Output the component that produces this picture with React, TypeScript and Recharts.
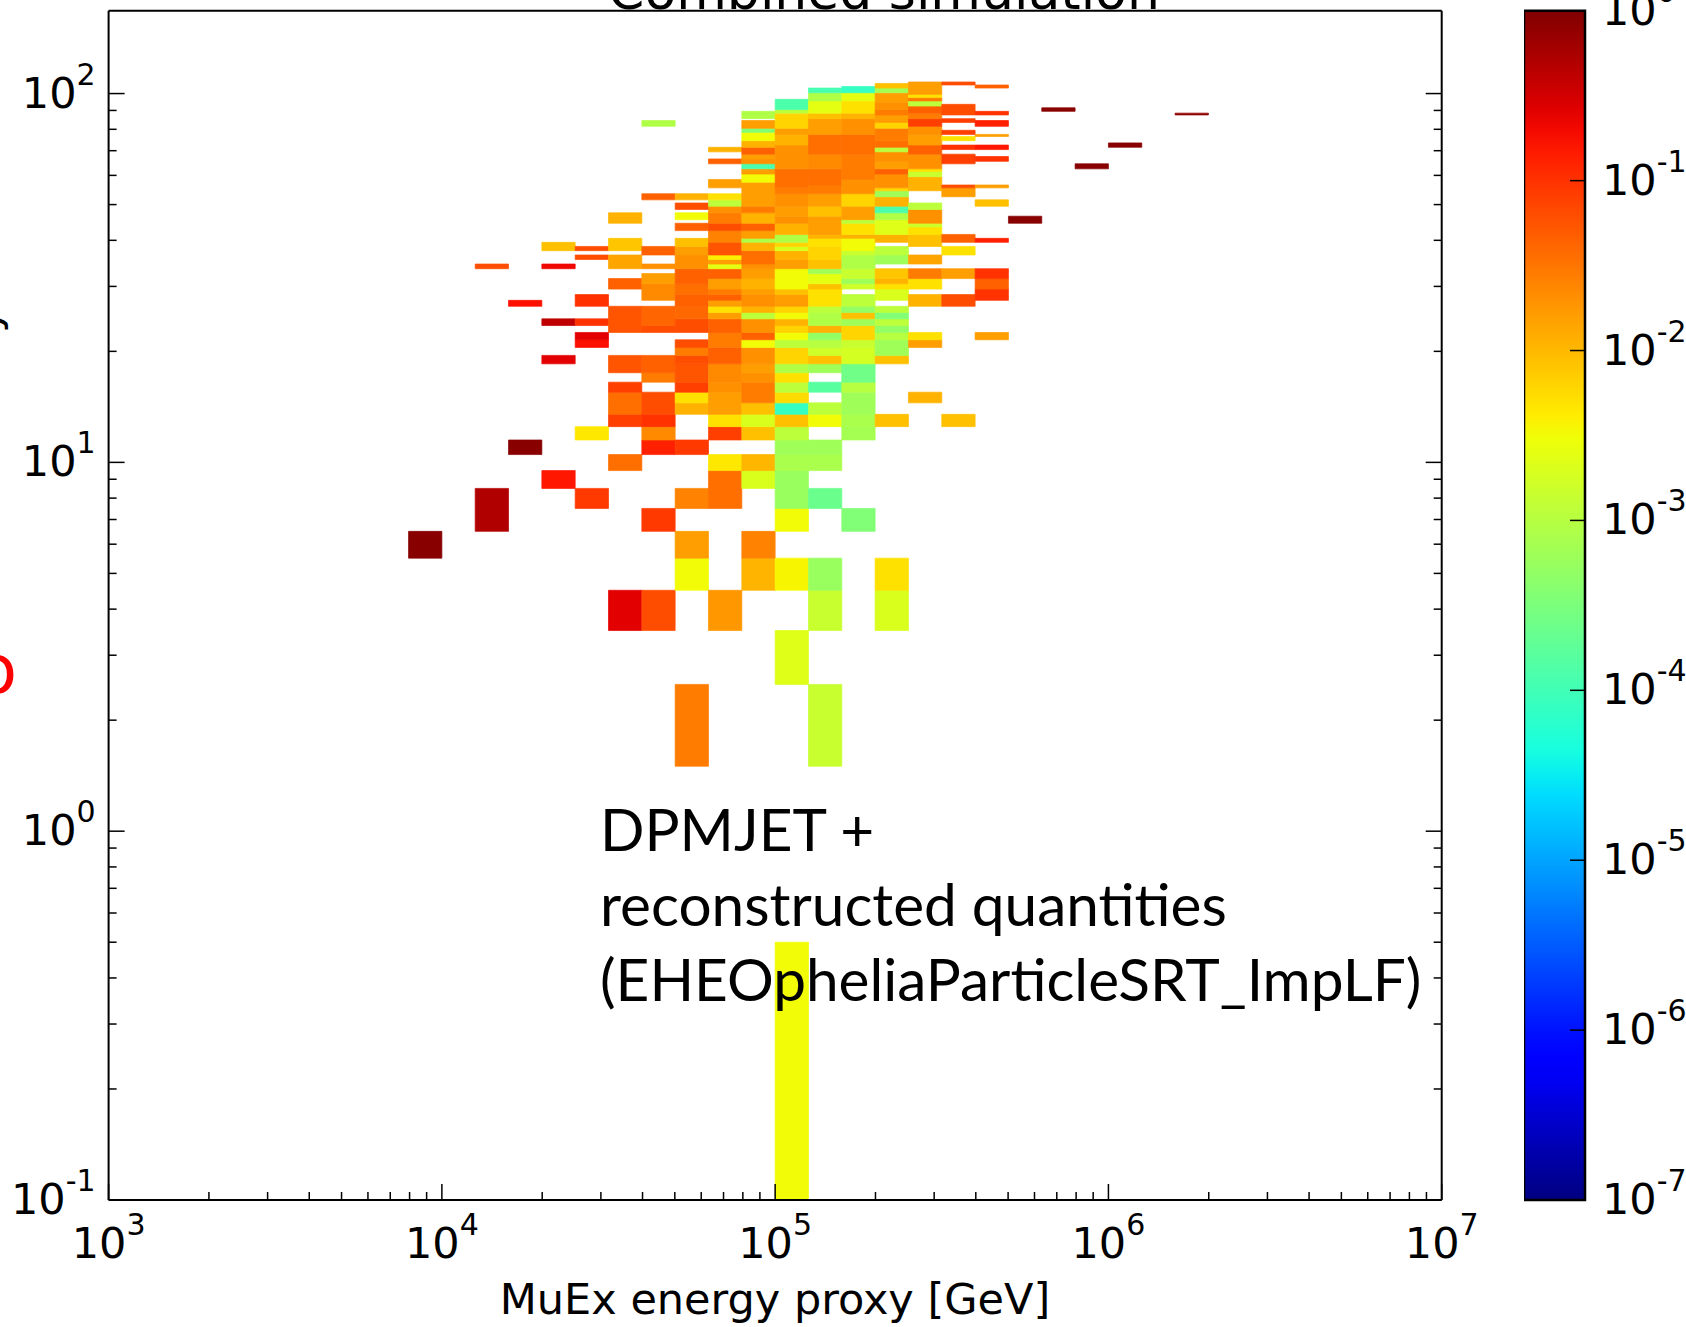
import React from 'react';
import { ScatterChart, Scatter, XAxis, YAxis, ReferenceArea } from 'recharts';

// 2D histogram: x bins are 10 per decade starting at 1e3, y bins are 1 wide centred on integers.
// each cell: [x bin index, first y bin, last y bin, log10(weight)]
const cells: [number, number, number, number][] = [
  [9, 6, 6, -0.05],
  [11, 7, 8, -0.3], [11, 34, 34, -1.2],
  [12, 11, 11, -0.05], [12, 27, 27, -0.75],
  [13, 9, 9, -0.8], [13, 19, 19, -0.6], [13, 24, 24, -0.38], [13, 34, 34, -0.68], [13, 38, 39, -2.05],
  [14, 8, 8, -1.05], [14, 12, 12, -2.35], [14, 21, 21, -0.75], [14, 22, 22, -0.6], [14, 24, 24, -1.0],
  [14, 27, 28, -1.0], [14, 36, 36, -1.2], [14, 38, 38, -1.2],
  [15, 4, 4, -0.6], [15, 10, 10, -1.45], [15, 13, 13, -1.1], [15, 14, 15, -1.45], [15, 16, 16, -1.1],
  [15, 18, 19, -1.25], [15, 23, 26, -1.25], [15, 30, 31, -1.35], [15, 34, 36, -1.85], [15, 38, 40, -2.1],
  [15, 45, 47, -1.95],
  [16, 4, 4, -1.2], [16, 7, 7, -1.05], [16, 11, 11, -0.87], [16, 12, 12, -1.65], [16, 13, 13, -1.0],
  [16, 14, 15, -1.2], [16, 17, 17, -1.55], [16, 18, 19, -1.35], [16, 23, 23, -1.2], [16, 24, 26, -1.38],
  [16, 28, 30, -1.65], [16, 31, 32, -1.8], [16, 34, 34, -1.7], [16, 37, 38, -1.35], [16, 52, 53, -1.35],
  [16, 82, 84, -3.05],
  [17, 2, 2, -1.55], [17, 5, 5, -2.5], [17, 6, 6, -1.8], [17, 8, 8, -1.6], [17, 11, 11, -1.05],
  [17, 14, 14, -1.95], [17, 15, 15, -2.3], [17, 16, 16, -1.1], [17, 17, 18, -1.25], [17, 19, 19, -1.2],
  [17, 20, 20, -1.55], [17, 21, 21, -1.2], [17, 23, 24, -1.2], [17, 25, 26, -1.4], [17, 27, 28, -1.35],
  [17, 29, 30, -1.45], [17, 31, 33, -1.35], [17, 34, 34, -1.7], [17, 35, 36, -1.7], [17, 37, 38, -1.8],
  [17, 39, 40, -2.05], [17, 43, 44, -1.35], [17, 46, 47, -2.5], [17, 49, 50, -1.2], [17, 52, 53, -1.95],
  [18, 4, 4, -1.75], [18, 8, 9, -1.45], [18, 10, 10, -2.35], [18, 12, 12, -1.1], [18, 13, 13, -2.3],
  [18, 14, 15, -1.8], [18, 16, 16, -1.7], [18, 17, 18, -1.65], [18, 19, 20, -1.35], [18, 21, 22, -1.55],
  [18, 23, 24, -1.35], [18, 25, 25, -1.8], [18, 26, 26, -2.3], [18, 27, 27, -1.8], [18, 28, 28, -1.35],
  [18, 29, 29, -1.55], [18, 30, 31, -1.8], [18, 32, 33, -1.35], [18, 34, 34, -2.6], [18, 35, 35, -1.8],
  [18, 36, 36, -2.4], [18, 37, 39, -1.25], [18, 40, 42, -1.6], [18, 43, 44, -1.2], [18, 45, 47, -1.55],
  [18, 48, 49, -1.7], [18, 50, 51, -2.95], [18, 52, 53, -2.3], [18, 56, 58, -1.8], [18, 65, 66, -1.35],
  [18, 70, 71, -1.95],
  [19, 5, 5, -1.97], [19, 6, 6, -1.6], [19, 9, 9, -2.7], [19, 10, 10, -1.98], [19, 12, 12, -2.05],
  [19, 13, 13, -2.7], [19, 14, 14, -2.05], [19, 15, 16, -1.55], [19, 17, 17, -1.7], [19, 18, 18, -1.8],
  [19, 19, 20, -1.7], [19, 21, 21, -2.5], [19, 22, 22, -1.35], [19, 23, 24, -1.7], [19, 25, 25, -2.95],
  [19, 26, 26, -1.95], [19, 27, 28, -1.7], [19, 29, 29, -1.8], [19, 30, 31, -1.95], [19, 32, 33, -1.8],
  [19, 34, 34, -1.7], [19, 35, 37, -1.45], [19, 38, 39, -1.95], [19, 40, 40, -3.05], [19, 41, 42, -1.8],
  [19, 43, 44, -1.35], [19, 45, 47, -1.95], [19, 48, 49, -1.55], [19, 50, 57, -1.8], [19, 58, 60, -2.5],
  [19, 61, 62, -1.8], [19, 63, 64, -3.95], [19, 65, 66, -1.7], [19, 67, 68, -1.8], [19, 69, 71, -1.35],
  [19, 72, 74, -1.95], [19, 75, 78, -2.5], [19, 79, 80, -3.45], [19, 81, 84, -1.8], [19, 86, 89, -3.05],
  [20, 0, 0, -2.5], [20, 3, 3, -2.65], [20, 5, 5, -2.45], [20, 7, 7, -2.5], [20, 8, 9, -3.25],
  [20, 10, 10, -3.1], [20, 11, 11, -3.2], [20, 12, 12, -2.95], [20, 13, 13, -2.05], [20, 14, 14, -4.1],
  [20, 15, 15, -2.25], [20, 16, 16, -2.95], [20, 17, 17, -2.3], [20, 18, 18, -3.05], [20, 19, 20, -2.2],
  [20, 21, 21, -2.95], [20, 22, 22, -2.5], [20, 23, 23, -2.2], [20, 24, 24, -1.95], [20, 25, 25, -2.5],
  [20, 26, 26, -2.2], [20, 27, 28, -1.8], [20, 29, 29, -2.05], [20, 30, 33, -2.5], [20, 34, 35, -1.8],
  [20, 36, 37, -1.95], [20, 38, 38, -2.7], [20, 39, 39, -2.2], [20, 40, 41, -3.05], [20, 42, 44, -1.95],
  [20, 45, 46, -1.7], [20, 47, 49, -1.8], [20, 50, 53, -1.7], [20, 54, 55, -1.55], [20, 56, 62, -1.45],
  [20, 63, 72, -1.7], [20, 73, 77, -1.95], [20, 78, 80, -1.8], [20, 81, 88, -2.2], [20, 89, 90, -2.95],
  [20, 91, 96, -3.9],
  [21, 2, 2, -2.85], [21, 4, 4, -2.85], [21, 5, 5, -3.25], [21, 8, 8, -3.65], [21, 10, 10, -3.1],
  [21, 11, 11, -3.2], [21, 13, 13, -2.5], [21, 14, 14, -2.95], [21, 16, 16, -3.8], [21, 18, 18, -3.2],
  [21, 19, 19, -2.05], [21, 20, 20, -2.8], [21, 21, 21, -3.0], [21, 22, 22, -3.3], [21, 23, 23, -1.95],
  [21, 24, 25, -3.05], [21, 26, 26, -2.95], [21, 27, 29, -2.3], [21, 30, 30, -2.05], [21, 31, 32, -2.6],
  [21, 33, 33, -3.2], [21, 34, 35, -2.05], [21, 36, 38, -2.2], [21, 39, 40, -2.3], [21, 41, 41, -1.95],
  [21, 42, 46, -1.8], [21, 47, 49, -2.05], [21, 50, 53, -1.8], [21, 54, 56, -1.55], [21, 57, 62, -1.45],
  [21, 63, 68, -1.65], [21, 69, 77, -1.45], [21, 78, 85, -1.8], [21, 86, 88, -2.05], [21, 89, 95, -2.6],
  [21, 96, 100, -3.05], [21, 101, 103, -3.95],
  [22, 7, 7, -3.45], [22, 12, 12, -3.15], [22, 13, 13, -3.1], [22, 14, 15, -3.2], [22, 16, 16, -3.0],
  [22, 17, 18, -3.6], [22, 19, 20, -2.75], [22, 21, 21, -2.85], [22, 22, 23, -2.2], [22, 24, 24, -3.2],
  [22, 25, 25, -2.05], [22, 26, 26, -3.3], [22, 27, 28, -2.95], [22, 30, 30, -2.8], [22, 31, 31, -3.2],
  [22, 32, 33, -2.85], [22, 34, 34, -3.05], [22, 35, 36, -3.05], [22, 37, 37, -2.85], [22, 38, 40, -2.5],
  [22, 41, 41, -1.95], [22, 42, 44, -2.3], [22, 45, 45, -2.95], [22, 46, 49, -1.8], [22, 50, 53, -2.2],
  [22, 54, 58, -1.7], [22, 59, 68, -1.55], [22, 69, 77, -1.45], [22, 78, 85, -1.7], [22, 86, 88, -1.95],
  [22, 89, 95, -2.3], [22, 96, 100, -2.6], [22, 101, 104, -4.1],
  [23, 4, 4, -2.7], [23, 5, 5, -2.3], [23, 13, 13, -2.05], [23, 19, 19, -2.05], [23, 20, 21, -3.2],
  [23, 22, 22, -3.0], [23, 23, 23, -3.3], [23, 24, 24, -2.95], [23, 25, 25, -3.45], [23, 26, 26, -2.95],
  [23, 28, 29, -2.7], [23, 30, 30, -2.3], [23, 31, 31, -1.95], [23, 32, 33, -2.1], [23, 35, 36, -3.2],
  [23, 37, 38, -2.95], [23, 40, 41, -1.95], [23, 42, 45, -2.65], [23, 46, 47, -3.05], [23, 48, 49, -3.9],
  [23, 50, 52, -1.95], [23, 53, 54, -3.2], [23, 55, 55, -2.2], [23, 56, 60, -1.7], [23, 61, 62, -1.35],
  [23, 63, 65, -1.8], [23, 66, 69, -1.7], [23, 70, 71, -2.95], [23, 72, 74, -1.45], [23, 75, 80, -1.55],
  [23, 81, 83, -2.2], [23, 84, 87, -1.8], [23, 88, 90, -1.55], [23, 91, 94, -1.7], [23, 95, 100, -1.8],
  [23, 101, 103, -3.15], [23, 104, 106, -2.05],
  [24, 15, 15, -1.95], [24, 21, 21, -1.8], [24, 22, 22, -2.3], [24, 27, 28, -1.95], [24, 30, 31, -2.3],
  [24, 32, 33, -1.55], [24, 35, 36, -1.85], [24, 39, 41, -2.05], [24, 42, 43, -2.3], [24, 44, 44, -2.8],
  [24, 45, 48, -1.7], [24, 49, 50, -2.95], [24, 55, 59, -1.95], [24, 60, 61, -2.85], [24, 62, 62, -2.3],
  [24, 63, 68, -1.7], [24, 69, 72, -1.35], [24, 73, 77, -1.8], [24, 78, 81, -1.7], [24, 82, 85, -1.1],
  [24, 86, 88, -1.55], [24, 89, 92, -1.35], [24, 93, 95, -2.95], [24, 96, 97, -1.55], [24, 98, 99, -2.3],
  [24, 100, 107, -1.8],
  [25, 13, 13, -2.05], [25, 27, 28, -1.2], [25, 32, 33, -1.8], [25, 37, 38, -2.3], [25, 40, 41, -1.35],
  [25, 53, 55, -1.8], [25, 56, 56, -1.2], [25, 65, 68, -1.1], [25, 71, 72, -1.0], [25, 75, 76, -2.3],
  [25, 78, 79, -1.1], [25, 84, 85, -1.1], [25, 88, 93, -1.2], [25, 106, 107, -1.2],
  [26, 22, 22, -1.8], [26, 28, 29, -1.0], [26, 30, 31, -1.35], [26, 32, 33, -1.0], [26, 40, 40, -0.87],
  [26, 50, 51, -2.05], [26, 56, 56, -1.8], [26, 66, 67, -1.0], [26, 71, 72, -0.8], [26, 77, 77, -1.8],
  [26, 82, 84, -0.87], [26, 88, 89, -1.0], [26, 104, 105, -1.35],
  [27, 45, 46, -0.05],
  [28, 90, 91, -0.05],
  [29, 63, 64, -0.05],
  [30, 72, 73, -0.05],
  [32, 88, 88, -0.1],
];

const xDecades = [3, 4, 5, 6, 7];
const yDecades = [-1, 0, 1, 2];
const colorbarExponents = [0, -1, -2, -3, -4, -5, -6, -7];
const annotationLines = ['DPMJET +', 'reconstructed quantities', '(EHEOpheliaParticleSRT_ImpLF)'];
const titleText = 'Combined simulation';
const xLabel = 'MuEx energy proxy [GeV]';

const X_MIN = 1e3;
const X_MAX = 1e7;
const Y_MIN = 0.1;
const Y_MAX = 167.7;
const BINS_PER_DECADE = 10;
const FONT = '"DejaVu Sans", sans-serif';

const withMinors = (decades: number[], top: number) => {
  const out: number[] = [];
  decades.forEach((d) => {
    for (let m = 1; m <= 9; m++) {
      const v = m * Math.pow(10, d);
      if (v <= top * 1.0001) out.push(v);
    }
  });
  return out;
};
const xTicks = withMinors(xDecades, X_MAX);
const yTicks = withMinors(yDecades, Y_MAX);
const cbTicks = colorbarExponents.map((e) => Math.pow(10, e));

const isMajor = (v: number) => Math.abs(Math.log10(v) - Math.round(Math.log10(v))) < 1e-6;
const expOf = (v: number) => Math.round(Math.log10(v));

// matplotlib "jet"
const R = [[0, 0], [0.35, 0], [0.66, 1], [0.89, 1], [1, 0.5]];
const G = [[0, 0], [0.125, 0], [0.375, 1], [0.64, 1], [0.91, 0], [1, 0]];
const B = [[0, 0.5], [0.11, 1], [0.34, 1], [0.65, 0], [1, 0]];
const seg = (pts: number[][], t: number) => {
  for (let i = 1; i < pts.length; i++) {
    if (t <= pts[i][0]) {
      const [t0, v0] = pts[i - 1];
      const [t1, v1] = pts[i];
      return v0 + ((v1 - v0) * (t - t0)) / (t1 - t0);
    }
  }
  return pts[pts.length - 1][1];
};
const jet = (t: number) => {
  const c = Math.max(0, Math.min(1, t));
  const f = (p: number[][]) => Math.round(255 * seg(p, c));
  return `rgb(${f(R)},${f(G)},${f(B)})`;
};
const colorOf = (logv: number) => jet((logv + 7) / 7);
const gradientStops = Array.from({ length: 51 }, (_, i) => i / 50);

const binEdge = (k: number) => Math.pow(10, 3 + k / BINS_PER_DECADE);
const centers = cells.map(([k, lo, hi]) => ({
  x: Math.sqrt(binEdge(k) * binEdge(k + 1)),
  y: Math.max((lo + hi) / 2, 0.2),
}));

const Sup = ({ e }: { e: number }) => (
  <tspan fontSize={30} dy={-23}>
    {e < 0 ? `-${-e}` : `${e}`}
  </tspan>
);

const BottomTick = (p: any) => {
  const { x, y, payload } = p;
  const major = isMajor(payload.value);
  return (
    <g>
      <line x1={x} x2={x} y1={y} y2={y - (major ? 16 : 8)} stroke="#000" strokeWidth={1.5} />
      {major && (
        <text x={x} y={y + 58} textAnchor="middle" fontSize={43} fontFamily={FONT} fill="#000">
          10<Sup e={expOf(payload.value)} />
        </text>
      )}
    </g>
  );
};
const TopTick = (p: any) => {
  const { x, y, payload } = p;
  const major = isMajor(payload.value);
  return <line x1={x} x2={x} y1={y} y2={y + (major ? 16 : 8)} stroke="#000" strokeWidth={1.5} />;
};
const LeftTick = (p: any) => {
  const { x, y, payload } = p;
  const major = isMajor(payload.value);
  return (
    <g>
      <line x1={x} x2={x + (major ? 16 : 8)} y1={y} y2={y} stroke="#000" strokeWidth={1.5} />
      {major && (
        <text x={x - 13} y={y + 14} textAnchor="end" fontSize={43} fontFamily={FONT} fill="#000">
          10<Sup e={expOf(payload.value)} />
        </text>
      )}
    </g>
  );
};
const RightTick = (p: any) => {
  const { x, y, payload } = p;
  const major = isMajor(payload.value);
  return <line x1={x} x2={x - (major ? 16 : 8)} y1={y} y2={y} stroke="#000" strokeWidth={1.5} />;
};
const ColorbarTick = (p: any) => {
  const { x, y, payload } = p;
  const e = expOf(payload.value);
  const inner = e !== 0 && e !== -7;
  return (
    <g>
      {inner && <line x1={x} x2={x - 15} y1={y} y2={y} stroke="#000" strokeWidth={1.5} />}
      <text x={x + 17} y={y + 14} textAnchor="start" fontSize={43} fontFamily={FONT} fill="#000">
        10<Sup e={e} />
      </text>
    </g>
  );
};

const axisLine = { stroke: '#000', strokeWidth: 2 };
const hiddenShape = () => <g />;

export default function App() {
  return (
    <div
      style={{
        position: 'absolute',
        left: 0,
        top: 0,
        width: 1686,
        height: 1327,
        background: '#fff',
        overflow: 'hidden',
      }}
    >
      <div style={{ position: 'absolute', left: 0, top: 0 }}>
        <ScatterChart width={1686} height={1327} margin={{ top: 9.75, right: 243.3, bottom: 0, left: 0 }}>
          <XAxis
            xAxisId={0}
            dataKey="x"
            type="number"
            scale="log"
            domain={[X_MIN, X_MAX]}
            allowDataOverflow
            ticks={xTicks}
            interval={0}
            height={127}
            tickSize={0}
            tickMargin={0}
            tickLine={false}
            axisLine={axisLine}
            tick={BottomTick}
          />
          <XAxis
            xAxisId="top"
            orientation="top"
            type="number"
            scale="log"
            domain={[X_MIN, X_MAX]}
            allowDataOverflow
            ticks={xTicks}
            interval={0}
            height={1}
            tickSize={0}
            tickMargin={0}
            tickLine={false}
            axisLine={axisLine}
            tick={TopTick}
          />
          <YAxis
            yAxisId={0}
            dataKey="y"
            type="number"
            scale="log"
            domain={[Y_MIN, Y_MAX]}
            allowDataOverflow
            ticks={yTicks}
            interval={0}
            width={108.6}
            tickSize={0}
            tickMargin={0}
            tickLine={false}
            axisLine={axisLine}
            tick={LeftTick}
          />
          <YAxis
            yAxisId="right"
            orientation="right"
            type="number"
            scale="log"
            domain={[Y_MIN, Y_MAX]}
            allowDataOverflow
            ticks={yTicks}
            interval={0}
            width={1}
            tickSize={0}
            tickMargin={0}
            tickLine={false}
            axisLine={axisLine}
            tick={RightTick}
          />
          {cells.map(([k, lo, hi, v], i) => (
            <ReferenceArea
              key={i}
              xAxisId={0}
              yAxisId={0}
              x1={binEdge(k)}
              x2={binEdge(k + 1)}
              y1={Math.max(lo - 0.5, Y_MIN)}
              y2={hi + 0.5}
              fill={colorOf(v)}
              fillOpacity={1}
              stroke={colorOf(v)}
              strokeWidth={0.7}
              ifOverflow="visible"
            />
          ))}
          <Scatter data={centers} shape={hiddenShape} isAnimationActive={false} />
        </ScatterChart>
      </div>

      <div style={{ position: 'absolute', left: 1524, top: 0 }}>
        <ScatterChart width={162} height={1327} margin={{ top: 10.75, right: 0, bottom: 127, left: 0 }}>
          <defs>
            <linearGradient id="jetGradient" x1="0" y1="1" x2="0" y2="0">
              {gradientStops.map((t) => (
                <stop key={t} offset={t} stopColor={jet(t)} />
              ))}
            </linearGradient>
          </defs>
          <XAxis dataKey="x" type="number" domain={[0, 1]} hide />
          <YAxis
            dataKey="v"
            type="number"
            scale="log"
            domain={[1e-7, 1]}
            allowDataOverflow
            orientation="right"
            width={101}
            ticks={cbTicks}
            interval={0}
            tickSize={0}
            tickMargin={0}
            tickLine={false}
            axisLine={false}
            tick={ColorbarTick}
          />
          <ReferenceArea
            x1={0}
            x2={1}
            y1={1e-7}
            y2={1}
            fill="url(#jetGradient)"
            fillOpacity={1}
            stroke="#000"
            strokeWidth={2.5}
            ifOverflow="visible"
          />
          <Scatter data={[{ x: 0.5, v: 1e-3 }]} shape={hiddenShape} isAnimationActive={false} />
        </ScatterChart>
      </div>

      <svg
        width={1686}
        height={1327}
        style={{ position: 'absolute', left: 0, top: 0, pointerEvents: 'none' }}
      >
        <text x={884} y={9} textAnchor="middle" fontSize={52} fontFamily={FONT} fill="#000">
          {titleText}
        </text>
        <text x={775} y={1314} textAnchor="middle" fontSize={43} fontFamily={FONT} fill="#000">
          {xLabel}
        </text>
        <text transform="translate(-1,333) rotate(-90)" fontSize={43} fontFamily={FONT} fill="#000">
          y
        </text>
        <text x={17} y={693} textAnchor="end" fontSize={68} fontFamily={FONT} fill="#ff0000">
          o
        </text>
        {annotationLines.map((line, i) => (
          <text key={i} x={600} y={851 + i * 75} fontSize={58.5} fontFamily="Lato, sans-serif" fill="#000">
            {line}
          </text>
        ))}
      </svg>
    </div>
  );
}
